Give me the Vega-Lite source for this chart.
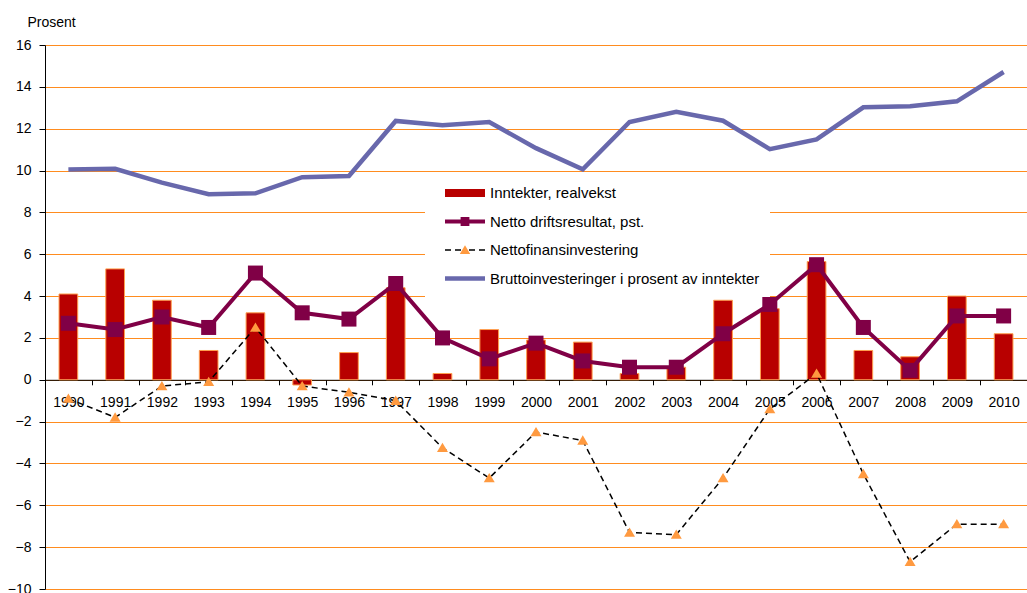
{
  "$schema": "https://vega.github.io/schema/vega-lite/v6.json",
  "width": 982,
  "height": 544,
  "autosize": {"type": "none"},
  "padding": {"left": 45, "top": 45, "right": 0, "bottom": 4},
  "background": "white",
  "config": {"font": "Liberation Sans", "view": {"stroke": null}},
  "data": {"values": [
    {"year": "1990", "inntekter": 4.1, "netto": 2.7, "finans": -0.9, "brutto": 10.05},
    {"year": "1991", "inntekter": 5.3, "netto": 2.4, "finans": -1.8, "brutto": 10.08},
    {"year": "1992", "inntekter": 3.8, "netto": 3.0, "finans": -0.3, "brutto": 9.42},
    {"year": "1993", "inntekter": 1.4, "netto": 2.5, "finans": -0.1, "brutto": 8.87},
    {"year": "1994", "inntekter": 3.2, "netto": 5.1, "finans": 2.5, "brutto": 8.91},
    {"year": "1995", "inntekter": -0.25, "netto": 3.2, "finans": -0.3, "brutto": 9.68},
    {"year": "1996", "inntekter": 1.3, "netto": 2.9, "finans": -0.6, "brutto": 9.74},
    {"year": "1997", "inntekter": 4.4, "netto": 4.6, "finans": -1.0, "brutto": 12.37},
    {"year": "1998", "inntekter": 0.3, "netto": 2.0, "finans": -3.25, "brutto": 12.16},
    {"year": "1999", "inntekter": 2.4, "netto": 1.0, "finans": -4.7, "brutto": 12.32},
    {"year": "2000", "inntekter": 1.9, "netto": 1.75, "finans": -2.5, "brutto": 11.07},
    {"year": "2001", "inntekter": 1.8, "netto": 0.9, "finans": -2.9, "brutto": 10.06},
    {"year": "2002", "inntekter": 0.3, "netto": 0.6, "finans": -7.3, "brutto": 12.32},
    {"year": "2003", "inntekter": 0.6, "netto": 0.6, "finans": -7.4, "brutto": 12.81},
    {"year": "2004", "inntekter": 3.8, "netto": 2.2, "finans": -4.7, "brutto": 12.38},
    {"year": "2005", "inntekter": 3.4, "netto": 3.6, "finans": -1.4, "brutto": 11.02},
    {"year": "2006", "inntekter": 5.65, "netto": 5.5, "finans": 0.3, "brutto": 11.49},
    {"year": "2007", "inntekter": 1.4, "netto": 2.5, "finans": -4.5, "brutto": 13.02},
    {"year": "2008", "inntekter": 1.1, "netto": 0.45, "finans": -8.7, "brutto": 13.07},
    {"year": "2009", "inntekter": 4.0, "netto": 3.05, "finans": -6.9, "brutto": 13.31},
    {"year": "2010", "inntekter": 2.2, "netto": 3.05, "finans": -6.9, "brutto": 14.71}
  ]},
  "encoding": {
    "x": {
      "field": "year", "type": "ordinal",
      "scale": {"paddingInner": 0, "paddingOuter": 0},
      "axis": {
        "title": null, "offset": -209.2, "labelAngle": 0, "labelFontSize": 14,
        "labelColor": "#000000", "labelPadding": 11, "domainColor": "#000000",
        "domainWidth": 1, "tickColor": "#000000", "tickSize": 5, "tickBand": "extent",
        "grid": false, "zindex": 0
      }
    }
  },
  "layer": [
    {
      "mark": {"type": "bar", "width": {"band": 0.4}, "stroke": "#FFA050", "strokeWidth": 1},
      "encoding": {
        "y": {
          "field": "inntekter", "type": "quantitative", "title": "Prosent",
          "scale": {"domain": [-10, 16], "nice": false, "zero": false},
          "axis": {
            "values": [-10, -8, -6, -4, -2, 0, 2, 4, 6, 8, 10, 12, 14, 16],
            "grid": true, "gridColor": "#FF8C1F", "gridWidth": 1, "gridOpacity": 1,
            "domainColor": "#000000", "domainWidth": 1, "tickColor": "#000000", "tickSize": 6,
            "labelFontSize": 14, "labelColor": "#000000", "labelPadding": 8,
            "titleAngle": 0, "titleAlign": "left", "titleBaseline": "alphabetic",
            "titleX": -18, "titleY": -19, "titleFontWeight": "normal", "titleFontSize": 14,
            "titleColor": "#000000"
          }
        },
        "color": {
          "datum": "Inntekter,  realvekst",
          "scale": {
            "domain": ["Inntekter,  realvekst", "Netto driftsresultat, pst.", "Nettofinansinvestering", "Bruttoinvesteringer i prosent av inntekter"],
            "range": ["#B80000", "#800046", "#000000", "#6868AC"]
          },
          "legend": {
            "title": null, "orient": "none", "direction": "vertical",
            "legendX": 380, "legendY": 130, "fillColor": "white", "padding": 10,
            "symbolSize": 1600, "symbolStrokeWidth": 0, "clipHeight": 16, "rowPadding": 12.5,
            "labelFontSize": 15, "labelColor": "#000000", "labelOffset": 5, "symbolOffset": 10,
            "labelLimit": 400, "symbolOpacity": 1,
            "symbolType": {"expr": "datum.value === 'Inntekter,  realvekst' ? 'M-1,-0.2H1V0.2H-1Z' : datum.value === 'Netto driftsresultat, pst.' ? 'M-1,-0.1H1V0.1H-1Z' : datum.value === 'Nettofinansinvestering' ? 'M-1,-0.04H-0.7V0.04H-1Z M-0.5,-0.04H-0.2V0.04H-0.5Z M0.2,-0.04H0.5V0.04H0.2Z M0.7,-0.04H1V0.04H0.7Z' : 'M-1,-0.11H1V0.11H-1Z'"}
          }
        }
      }
    },
    {
      "mark": {"type": "line", "strokeWidth": 1.5, "strokeDash": [6, 4]},
      "encoding": {
        "y": {"field": "finans", "type": "quantitative", "title": "Prosent"},
        "color": {"datum": "Nettofinansinvestering"}
      }
    },
    {
      "mark": {"type": "point", "filled": true, "size": 1790, "opacity": 1, "strokeWidth": 0},
      "encoding": {
        "y": {"field": "finans", "type": "quantitative", "title": "Prosent"},
        "fill": {
          "datum": "Nettofinansinvestering",
          "scale": {"domain": ["Netto driftsresultat, pst.", "Nettofinansinvestering"], "range": ["#800046", "#FF9A40"]},
          "legend": {
            "title": null, "orient": "none", "direction": "vertical",
            "legendX": 380, "legendY": 158.5, "padding": 10,
            "symbolSize": 1600, "symbolStrokeWidth": 0, "clipHeight": 16, "rowPadding": 12.5,
            "labelFontSize": 15, "labelOpacity": 0, "labelOffset": 5, "symbolOffset": 10,
            "labelLimit": 400, "symbolOpacity": 1
          }
        },
        "shape": {
          "datum": "Nettofinansinvestering",
          "scale": {"domain": ["Netto driftsresultat, pst.", "Nettofinansinvestering"], "range": ["M-0.22,-0.22H0.22V0.22H-0.22Z", "M0,-0.24L0.26,0.2H-0.26Z"]},
          "legend": {
            "title": null, "orient": "none", "direction": "vertical",
            "legendX": 380, "legendY": 158.5, "padding": 10,
            "symbolSize": 1600, "symbolStrokeWidth": 0, "clipHeight": 16, "rowPadding": 12.5,
            "labelFontSize": 15, "labelOpacity": 0, "labelOffset": 5, "symbolOffset": 10,
            "labelLimit": 400, "symbolOpacity": 1
          }
        }
      }
    },
    {
      "mark": {"type": "line", "strokeWidth": 4},
      "encoding": {
        "y": {"field": "netto", "type": "quantitative", "title": "Prosent"},
        "color": {"datum": "Netto driftsresultat, pst."}
      }
    },
    {
      "mark": {"type": "point", "filled": true, "size": 4650, "opacity": 1, "strokeWidth": 0},
      "encoding": {
        "y": {"field": "netto", "type": "quantitative", "title": "Prosent"},
        "fill": {"datum": "Netto driftsresultat, pst."},
        "shape": {"datum": "Netto driftsresultat, pst."}
      }
    },
    {
      "mark": {"type": "line", "strokeWidth": 4.5},
      "encoding": {
        "y": {"field": "brutto", "type": "quantitative", "title": "Prosent"},
        "color": {"datum": "Bruttoinvesteringer i prosent av inntekter"}
      }
    }
  ]
}
